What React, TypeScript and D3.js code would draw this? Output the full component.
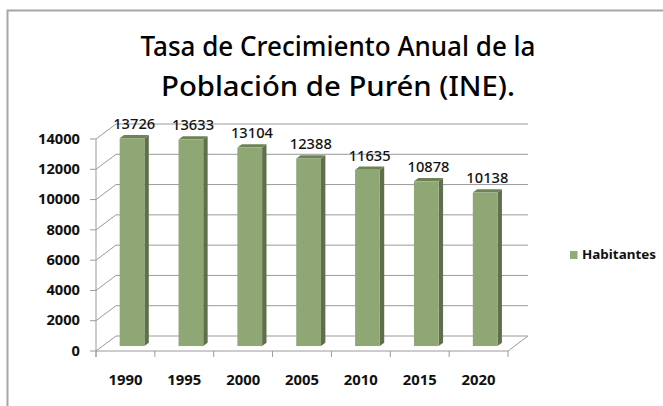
import React from "react";
import * as d3 from "d3";

const years = ["1990", "1995", "2000", "2005", "2010", "2015", "2020"];
const habitantes = [13726, 13633, 13104, 12388, 11635, 10878, 10138];
const yTicks = [0, 2000, 4000, 6000, 8000, 10000, 12000, 14000];
const titleLines = ["Tasa de Crecimiento Anual de la", "Población de Purén (INE)."];
const seriesName = "Habitantes";

const W = 663;
const H = 406;
const FONT = "'Noto Sans', 'Open Sans', sans-serif";

export default function App() {
  const left = 96;
  const right = 508;
  const floorY = 351;
  const depthX = 20;
  const depthY = -15;
  const plotH = 212;

  const x = d3.scaleBand<string>().domain(years).range([left, right]).paddingInner(0.58).paddingOuter(0.29);
  const step = (right - left) / years.length;
  const xCat = d3.scaleBand<string>().domain(years).range([left, right]).padding(0);
  const h = d3.scaleLinear().domain([0, 14000]).range([0, plotH]);

  const barFront = 0.33;
  const barDepth = 0.22;
  const bfx = depthX * barFront;
  const bfy = depthY * barFront;
  const bdx = depthX * barDepth;
  const bdy = depthY * barDepth;

  const grid = "#9a9a9a";
  const frontCol = "#8fa775";
  const sideCol = "#5f6f4b";
  const topCol = "#6d8356";

  return (
    <svg width={W} height={H} style={{ position: "absolute", left: 0, top: 0, background: "#fff" }}>
      <rect x={0} y={0} width={W} height={H} fill="#fff" />
      {/* frame */}
      <path d={`M7.5,${H + 2} L7.5,10.5 L${W + 2},10.5`} fill="none" stroke="#a6a6a6" strokeWidth={2} />
      {/* title */}
      {titleLines.map((t, i) => (
        <text key={t} x={338} y={56 + i * 40} textAnchor="middle" fontFamily={FONT} fontSize={27}
          fontWeight={500} fill="#000" textLength={i === 0 ? 395 : 354} lengthAdjust="spacingAndGlyphs">{t}</text>
      ))}
      {/* side wall gridlines and back wall gridlines */}
      {yTicks.map((v) => {
        const yf = floorY - h(v);
        const yb = yf + depthY;
        return (
          <g key={v}>
            {v > 0 && <line x1={left} y1={yf} x2={left + depthX} y2={yb} stroke={grid} strokeWidth={1} />}
            {v > 0 && <line x1={left + depthX} y1={yb} x2={right + depthX} y2={yb} stroke={grid} strokeWidth={1} />}
            <line x1={left - 6} y1={yf} x2={left} y2={yf} stroke={grid} strokeWidth={1} />
            <text x={80} y={yf} dy="0.35em" textAnchor="end" fontFamily={FONT} fontSize={13.5}
              fontWeight="bold" fill="#111" textLength={String(v).length * 8.4} lengthAdjust="spacingAndGlyphs">{v}</text>
          </g>
        );
      })}
      {/* floor */}
      <path d={`M${left},${floorY} L${right},${floorY} L${right + depthX},${floorY + depthY} L${left + depthX},${floorY + depthY} Z`}
        fill="none" stroke={grid} strokeWidth={1} />
      {/* front axis */}
      <line x1={left} y1={floorY - h(14000)} x2={left} y2={floorY + 6} stroke={grid} strokeWidth={1} />
      {/* x ticks */}
      {[...years.map((c) => xCat(c) as number), right].map((tx, i) => (
        <line key={i} x1={tx} y1={floorY} x2={tx} y2={floorY + 6} stroke={grid} strokeWidth={1} />
      ))}
      {/* bars */}
      {years.map((c, i) => {
        const x0 = (x(c) as number) + bfx;
        const w = x.bandwidth();
        const yb = floorY + bfy;
        const yt = yb - h(habitantes[i]);
        return (
          <g key={c}>
            <path d={`M${x0 + w},${yb} L${x0 + w + bdx},${yb + bdy} L${x0 + w + bdx},${yt + bdy} L${x0 + w},${yt} Z`} fill={sideCol} />
            <path d={`M${x0},${yt} L${x0 + bdx},${yt + bdy} L${x0 + w + bdx},${yt + bdy} L${x0 + w},${yt} Z`} fill={topCol} />
            <rect x={x0} y={yt} width={w} height={yb - yt} fill={frontCol} />
            <text x={x0 + (w + bdx) / 2} y={yt + bdy - 6} textAnchor="middle" fontFamily={FONT} fontSize={13.5}
              fontWeight={500} fill="#111" textLength={42} lengthAdjust="spacingAndGlyphs">{habitantes[i]}</text>
          </g>
        );
      })}
      {/* x labels */}
      {years.map((c) => (
        <text key={c} x={(xCat(c) as number) + step / 2} y={380} dy="0.35em" textAnchor="middle" fontFamily={FONT}
          fontSize={13.5} fontWeight="bold" fill="#111" textLength={34} lengthAdjust="spacingAndGlyphs">{c}</text>
      ))}
      {/* legend */}
      <rect x={570} y={251} width={7.5} height={8} fill="#93ab7a" />
      <text x={582} y={255} dy="0.35em" fontFamily={FONT} fontSize={12.5} fontWeight="bold" fill="#111"
        textLength={74} lengthAdjust="spacingAndGlyphs">{seriesName}</text>
    </svg>
  );
}
